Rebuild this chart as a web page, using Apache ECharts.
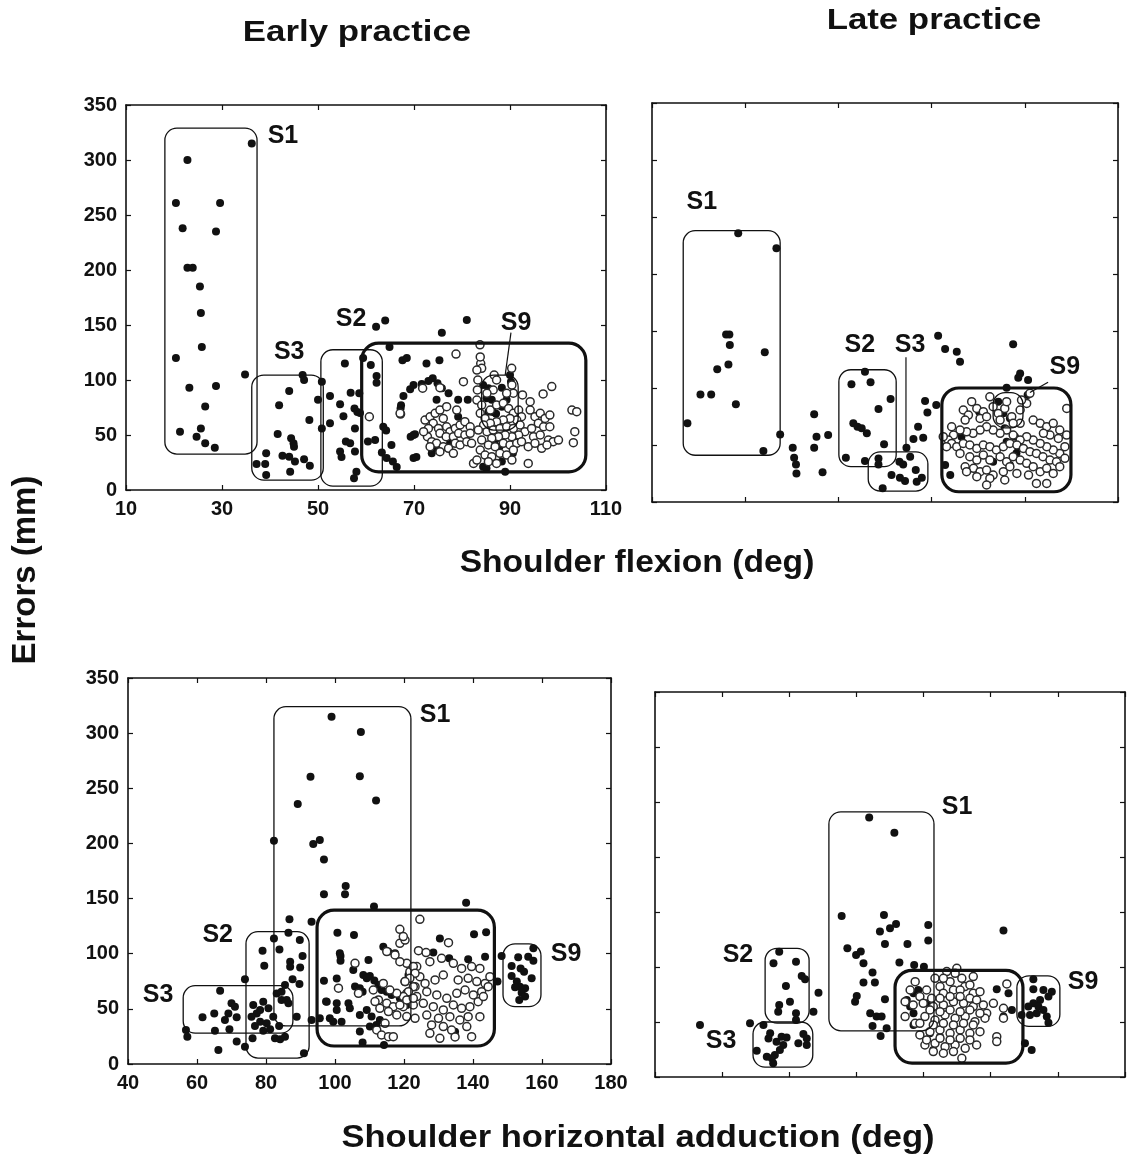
<!DOCTYPE html>
<html><head><meta charset="utf-8">
<script src="https://cdn.jsdelivr.net/npm/echarts/dist/echarts.min.js"></script>
<style>html,body{margin:0;padding:0;background:#fff}#c{width:1127px;height:1159px}</style>
</head><body><div id="c"></div><script>
// ---------- Top-left: Early practice, shoulder flexion ----------
const tlFilled = [[36.2,315],[22.8,300],[20.4,261],[29.6,261],[21.8,238],[28.75,235],[22.8,202],[23.9,202],[25.4,185],[25.6,161],[25.8,130],[20.4,120],[34.8,105],[23.2,93],[28.75,94.5],[26.5,76],[21.25,53],[25.6,56],[24.7,48.5],[26.5,42.5],[28.5,38.5],
[46.8,104.5],[47.1,100],[44,90],[41.9,77],[48.2,63.6],[50,82],[50.8,98.5],[52.5,85.5],[41.6,51],[44.4,47],[44.9,42.4],[45,39.4],[39.2,33.3],[42.6,31.2],[44,30.3],[45.2,25.8],[47.1,28],[48.3,22],[37.2,23.6],[39,23.6],[39.2,13.6],[44.2,16.6],[50.8,56],[52.5,60.6],
[55.6,115],[56.8,88.5],[58.6,88],[54.6,78],[57.6,74],[58.2,71],[58.75,70],[55.3,67],[57.7,56],[55.8,44],[56.7,42.5],[57.7,35],[54.6,35],[54.9,30],[58,16.6],[57.5,10.6],[61,113.6],[62.2,103.6],[62.2,97.5],[59.4,120],[64,154],[62.1,148.5],[63.6,57.5],[64.2,54],[61.9,45.5],[60.4,44],[63.3,34],[64.3,29],[65.3,41],[65.6,25.8],[66.4,21],[67.6,118],[68.5,120],[69.9,95.5],[69.2,91.5],[67.8,85.5],[67.3,77],[67.2,74],[69.9,50],[69.3,48.5],[69.9,29],[64.9,130],
[81,154.5],[75.8,143],[72.6,115],[75.3,118],[73.9,101.5],[73,99],[71.6,96.4],[74.9,97],[75.8,92.5],[77.2,88],[79.2,82],[81.2,82],[74.7,82],[79.2,66.6],[70.2,50.6],[70.5,30],[73.7,33.3],[74.7,38],[77.5,42.5],[84.4,95.5],[85.5,92.5],[88.3,93],[90.2,98.5],[85.1,83.4],[86.2,82],[89.3,82],[85.5,71.2],[86.4,71],[87.1,69.4],[88.3,75.7],[85.1,57.6],[86.9,45.5],[87.8,39.4],[88.3,25.8],[89,16.6],[84.4,21.2],[85.1,19.7],[90.6,33.3],[90,104.5]];
const tlOpen = [[60.7,66.6],[67.2,69],[83.75,132],[78.75,123.6],[83.9,115],[84.1,110.6],[90.35,110.6],[86.7,104.5],[80.3,98.5],[83.3,100],[83.2,91],[71.8,92.5],[75.4,93],[90.7,88],[92.6,86.4],[94.2,80.3],[96.9,87.3],[98.7,94],[67.1,69.7],[102.9,72.7],[103.9,71.2],[103.5,53],[103.2,43],[93.8,24.2],[82.4,24.2],
[72.3,63.6],[73.35,66.6],[74.4,69.7],[75.4,72.7],[76.1,65.1],[74,60.6],[73,56],[75.1,56],[76.8,57.5],[77.5,53],[78.6,56],[79.6,59.1],[80.6,62.1],[81.7,57.5],[75.4,51.5],[76.7,48.5],[78.2,48.5],[79.3,51.5],[80.6,50],[81.7,51.5],[72.8,48.5],[73.7,43.9],[74.7,42.4],[76.1,39.4],[77.2,37.9],[78.6,42.4],[79.6,40.9],[81,43.9],[75.4,34.8],[73.35,39.4],[82,42.4],[78.2,33.3],[76.8,75.7],[78.9,72.7],[72,53],
[83.1,81.8],[84.1,77.2],[83.8,69.7],[84.8,65.1],[85.9,72.7],[87.2,77.2],[88.6,78.8],[89.7,74.2],[90.7,69.7],[91.8,72.7],[92.4,66.6],[91.4,63.6],[90,65.1],[88.6,63.6],[87.2,62.1],[85.9,60.6],[84.5,59.1],[83.4,54.5],[85.2,53],[86.5,54.5],[87.9,56],[89.3,57.5],[90.7,56],[92.1,59.1],[93.1,53],[91.8,50],[90.4,48.5],[89,50],[87.6,48.5],[86.2,47],[84.1,45.4],[85.5,40.9],[86.9,39.4],[88.6,42.4],[90,40.9],[91.4,42.4],[92.4,43.9],[83.8,36.3],[84.8,31.8],[86.2,30.3],[87.9,33.3],[89.3,31.8],[90.7,36.3],[83.1,27.2],[85.5,25.7],[87.2,24.2],[90.4,27.2],[83.8,121],[90.4,95.4],[87.2,100],[86.5,90.9],[85.2,87.9],[83.1,109],[89.3,87.9],
[94.2,72.7],[95.2,66.6],[96.3,69.7],[97.3,65.1],[98.3,68.1],[95.9,60.6],[94.5,56],[97,57.5],[98.3,57.5],[94.9,48.5],[96.3,50],[98,45.4],[99,43.9],[100.1,45.4],[96.6,37.9],[97.7,40.9],[93.8,39.4],[95.2,42.4]];
const tlBoxes = [['S1',18.1,37.3,32.7,329],['S3',36.2,51.1,9,104.5],['S2',50.6,63.4,3.5,127.5],['S9-big',59.1,105.8,16.4,133.5],['S9-small',84.1,91.7,54.5,104.5]];
const tlTags = [['S1',42.7,322],['S3',44,125],['S2',56.9,155],['S9',91.25,152]];
const tlLeaders = [[90.2,143,89,104.5]];

// ---------- Top-right: Late practice, shoulder flexion ----------
const trFilled = [[28.5,235.7],[36.7,222.5],[25.9,147],[26.6,147],[26.7,137.7],[34.2,131.3],[24,116.4],[26.4,120.7],[20.4,94.4],[22.7,94.4],[28,85.7],[17.6,69],[37.5,59.3],[33.9,44.7],
[40.2,47.6],[40.5,38.9],[40.9,33],[41,25.1],[44.8,76.9],[44.8,47.6],[45.3,57.3],[47.8,58.8],[46.6,26],
[55.7,114.3],[52.8,103.2],[56.9,105],[61.2,90.3],[58.6,81.6],[53.2,69],[54.1,66.1],[55,64.6],[56.1,60.2],[59.8,50.6],[51.6,38.9],[55.7,36],
[58.6,38.2],[58.6,33],[64.6,47.6],[63.1,35.4],[63.9,33],[61.4,23.7],[63.2,21.3],[64.3,18.4],[66.6,28.1],[66.8,17.8],[67.9,21.3],[59.5,12],[65.4,39.8],[66.1,55.2],[68.2,56.4],[67.1,66.1],[68.6,88.6],[69.1,78.6],[71,85],
[71.4,145.9],[72.9,134.2],[75.4,131.9],[76.1,123.1],[87.5,138.3],[89,112.8],[88.6,109],[90.7,107],[86.1,100.3],[90.6,93.8],
[84.3,88],[85.4,77.8],[86.8,73.4],[84.7,71.9],[87.9,57.3],[86.1,52.9],[88.6,47],[85.7,64.6],[80.2,79.2],[76.4,57.3],[88.2,42.7],[72.9,32.4],[74,23.7],[86.8,32.4],[83.2,35.3]];
const trOpen = [[78.6,88],[76.8,80.7],[77.9,76.3],[77.2,71.9],[79.7,82.1],[81.1,79.2],[80.4,73.3],[83.2,83.6],[84.3,77.7],[85.7,82.1],[87.2,74.8],[89,80.7],[90.4,86.5],[91.8,71.9],[89,69],
[93.3,69],[94.7,66],[96.1,69],[97.5,63.1],[98.98,58.7],[97.2,55.8],[95.4,58.7],[94,60.2],[99,82.1],[98.6,48.5],[97.5,42.6],[96.1,45.6],[94.7,48.5],[93.3,51.4],[91.8,54.3],
[90.4,57.3],[89,54.3],[87.5,58.7],[86.1,63.1],[84.7,60.2],[83.2,63.1],[81.8,66],[80.4,63.1],[78.9,60.2],[77.5,61.6],[76.1,63.1],[74.7,58.7],[73.6,54.3],[72.5,57.3],
[74.3,51.4],[75.4,48.5],[76.8,51.4],[78.2,50],[79.7,47],[81.1,50],[82.5,48.5],[83.9,45.6],[85.4,48.5],[86.8,51.4],[88.3,50],[89.7,47],[91.1,44.1],[92.5,42.6],[93.9,39.7],[95.4,36.8],[96.8,35.3],[98.6,38.3],
[78.2,39.7],[79.7,36.8],[81.1,41.2],[82.5,36.8],[84.7,39.7],[86.1,35.3],[87.5,39.7],[89,36.8],[90.4,33.9],[91.8,31],[93.3,26.6],[94.7,29.5],[96.1,25.1],[97.5,31],
[77.2,30.9],[79,29.5],[80.4,26.6],[81.8,28],[83.2,23.6],[85.4,26.6],[86.8,31],[88.3,25.1],[85.7,19.3],[82.5,20.7],[79.7,22.2],[77.5,26.6],[90.8,23.6],[92.5,16.3],[94.7,16.3],[81.8,14.9],
[82.5,92.3],[86.1,88],[89.3,89.4],[91.1,95.3],[74.3,66],[73.2,48.5],[76.1,42.6],[84.7,71.9],[87.5,69],[81.8,74.8]];
const trBoxes = [['S1',16.7,37.5,41,238],['S2',50.1,62.4,31,116],['S3',56.4,69.2,9.6,44],['S9-big',72.2,99.9,9,100],['S9-small',83.2,89.6,65,96]];
const trTags = [['S1',20.7,263],['S2',54.6,138],['S3',65.4,138],['S9',98.6,118]];
const trLeaders = [[64.5,127,64.5,44],[95,105,91.1,96]];

// ---------- Bottom-left: Early practice, shoulder horizontal adduction ----------
const blFilled = [[99,314.9],[107.5,301],[107.2,261],[111.9,239],[92.9,260.5],[89.2,235.7],[82.3,202.5],[93.7,199.5],[95.6,203],[96.8,185.5],[96.8,154],[103.1,161.4],[102.9,154],[93.2,129],[86.8,131.2],[82.3,113.9],[83.9,103.9],[79,102.7],[79.5,89],[73.9,76.8],[86.5,119],[89.8,112.4],[90.6,97.9],[87,92.8],[87,88.2],[89.9,87.6],[87.7,76.8],[89.7,72.5],[83.1,64],[84.5,65.6],[85.5,71.6],[84.5,58],[86,58],[86.5,55],
[66.7,66.5],[70,55],[71,52],[69.1,45.9],[68.1,39.9],[71.5,42.3],[65,45.9],[61.6,42.3],[65.2,30.2],[69.4,31.4],[71.5,20.3],[66.2,12.7],[56.8,30.8],[57.2,24.8],
[76.3,53.5],[79.2,56.5],[80.7,50.5],[77.3,45.9],[75.8,42.9],[78.3,38.4],[80.2,36.9],[76.8,34.5],[79.2,30.2],[81.2,31.4],[76.1,23.3],[82.6,23.3],[84.1,22.4],[85.5,24.8],[83.8,34.5],[82.1,42.9],[78.3,48.9],[73.9,15.7],[91,9.7],[88.9,42.9],[93.2,39.9],
[100.7,119],[105.5,116.9],[101.6,97.9],[101.6,93.7],[96.8,75.5],[100.5,77.6],[97.6,56.5],[100.5,55],[100.5,48.9],[103.9,55],[99.5,38.4],[101.9,38.4],[95.6,41.4],
[111.3,142.7],[101.4,100.4],[109.7,94.3],[105.3,85.3],[108.2,80.7],[109.2,77.7],[110.1,79.8],[105.8,70.2],[107.2,68.7],[108,65.6],[97.4,56.6],[104.3,50.5],[107.2,44.5],[109.2,49],[110.6,43],[98.5,41.5],[113,39.9],[112,35.4],[110.1,33.9],[107.2,29.4],[108,19.4],[114,106.4],[115.4,101.9],[117.4,100.4],[111.4,75.6],[112.6,71.7],[113.5,67.1],[115,65.6],[116.4,62.6],[118.8,59.6],[120.8,53.5],[121.3,80.7],[114.2,17.3],
[138,146.3],[130.4,113.9],[128.5,101],[140.3,117.6],[143.8,119.4],[133.1,95.8],[138.6,94.9],[143.5,97.3],[147.1,74.7],[148.3,98],[134.8,29.3],
[157.5,104.9],[153.1,96.7],[156,97.3],[157.5,93.7],[151.2,88.9],[153.8,86.7],[154.8,83.7],[157,77.7],[151.2,79.8],[152.7,74.7],[153.6,70.1],[155.1,68.6],[152.2,69.5],[154.1,64.7],[155.1,61.1],[153.4,58.1]];
const blOpen = [[124.6,131.2],[132.9,110],[124.2,102.8],[126.4,101],[127.5,92.8],[130.9,95.8],[134.3,91.3],[136.7,86.7],[139.6,88.3],[142,86.7],
[123.7,88.3],[124.6,79.2],[121.7,83.7],[120.3,74.7],[123.2,70.1],[126.1,73.1],[129,76.2],[131.4,80.7],[135.7,76.2],[138.6,77.7],[141.1,74.7],[143.5,73.1],[144.9,79.2],
[120.8,64.1],[123.7,61.1],[126.6,65.6],[129.5,62.6],[132.4,59.6],[135.3,64.1],[137.7,67.1],[140.1,62.6],[142.5,65.6],[144.4,70.1],
[119.8,52],[122.7,53.5],[125.6,55],[128.5,52],[131.4,49],[134.3,53.5],[136.7,50.5],[139.1,52],[141.5,56.5],[143,61.1],
[123.2,41.4],[126.6,44.4],[130,41.4],[133.3,42.9],[136.2,39.9],[138.6,42.9],[142,42.9],[128,35.4],[131.4,33.9],[133.8,30.8],[138.2,33.9],[139.6,24.8],[130.4,23.3],[127.5,27.8],[134.8,24.5],
[120.8,91.3],[118.8,109.4],[120.3,112.4],[118.8,122.1],[119.8,115.5],[105.8,91.3],[101,68.7],[106.8,64.1],[115,101.9],[117.4,98.9],[118.8,92.8],
[122.7,88.3],[123.2,82.2],[121.7,77.7],[120.3,74.7],[122.7,70.1],[121.3,65.6],[119.8,61.1],[117.9,64.1],[115.9,67.1],[114,73.1],[112.6,58.1],[115,55],[116.9,52],[118.8,53.5],[120.8,58.1],[122.7,59.6],
[111.1,67.1],[111.6,56.6],[113,50.5],[115.5,47.5],[117.9,44.5],[120.8,43],[114.5,36.9],[112.1,30.9],[113.5,26.3],[115.5,24.8],[116.9,24.8]];
const blBoxes = [['S1',82.3,122,34.5,324],['S2',74.2,92.5,5.4,120],['S3',56,87.8,28,71],['S9-big',94.8,146.2,16.3,139.5],['S9-small',148.7,159.7,52,109]];
const blTags = [['S1',129,316],['S2',66,117],['S3',48.7,62.6],['S9',167,100]];
const blLeaders = [];

// ---------- Bottom-right: Late practice, shoulder horizontal adduction ----------
const brFilled = [[103.8,236],[111.3,222.1],[53.4,47.3],
[77,113.9],[75.3,103.3],[82,104.8],[83.7,91.8],[84.7,88.8],[79,82.7],[88.7,76.7],[80.2,68.5],[77,65.5],[76.7,59.4],[82,57.9],[87.2,59.4],[82,51.8],
[68.3,48.8],[72.3,47.3],[74.3,39.7],[73.8,35.1],[76.2,32.1],[77.7,36.6],[79.2,36],[78.2,29],[77.2,24.5],[75.7,20],[74.8,17],[75.2,12.4],[73.3,18.5],[70.3,23.9],[84.2,39.1],[82.7,30.6],[85.2,29.1],[85.2,35.1],
[95.6,146.4],[108.2,147.3],[107,132.2],[110,135.2],[111.8,139.1],[108.5,120.9],[115.2,120.9],[121.4,138.2],[121.4,124],[97.3,117],[99.9,111],[101.3,114],[102.1,103.4],[104.8,94.9],[102.1,85.8],[105.5,85.8],[112.8,104],[117.2,101.9],[120.1,100.3],[100.1,73.7],[99.6,68.5],[108.5,70.6],[104.1,57.9],[106,54.9],[107.5,54.9],[104.8,46.4],[109,44.3],[107.2,37.3],[117,76.1],[118.4,79.1],[120.9,67],
[143.8,133.1],[141.8,79.7],[145.3,76.1],[146.3,61],[143.8,55],[115,70.1],[116,64],[117,57.9],[117,47.3],[121.9,39.7],[122.9,24.6],[124.9,36.7],[150.2,30.6],[152.2,24.6],
[152.7,88.8],[152.7,79.7],[155.7,79.1],[158.2,77.6],[157.2,73.1],[154.7,70],[152.7,67],[151.2,64],[154.2,64],[155.7,60.9],[153.7,57.9],[151.7,56.4],[156.7,54.9],[157.2,49.4],[149.2,56.4]];
const brOpen = [[123.4,89.7],[126.9,95.8],[129.9,98.8],[127.9,86.7],[131.4,89.7],[124.9,82.2],[120.9,79.1],[118.9,73.1],[122.4,71.5],[125.9,76.1],[128.9,79.1],[132.3,82.2],[134.8,76.1],[136.8,77.6],
[116.9,65.5],[119.9,67],[122.9,64],[125.9,65.5],[128.9,68.5],[131.9,67],[134.8,64],[137.8,65.5],[140.8,67],[143.8,62.5],[138.8,57.9],
[114.5,54.9],[117.5,48.8],[120.4,54.9],[123.4,51.8],[126.4,56.4],[129.4,53.4],[132.4,54.9],[135.3,50.3],[138.3,53.4],
[118.9,38.2],[121.9,41.2],[124.9,42.8],[127.9,39.7],[130.9,42.8],[133.8,39.7],[136.8,41.2],
[120.4,29.1],[123.4,30.6],[126.4,27.6],[129.4,29.1],[132.4,26.1],[135.8,29.1],[141.8,36.7],[141.8,32.2],
[122.9,23.1],[125.9,21.6],[128.9,23.1],[131.4,17],[144.8,84.6],[143.8,53.4],[116,79.1],[114.5,68.5],[117.5,86.7],[133.8,83.7],[134.8,91.3],[130.9,79.1],
[121.9,60.9],[124.9,59.4],[127.9,60.9],[130.9,59.4],[133.8,60.9],[136.8,57.9],[124.9,71.5],[127.9,73.1],[130.9,73.1],[133.8,71.5],[135.8,70],
[122.9,47.3],[125.9,48.8],[128.9,47.3],[131.9,48.8],[134.8,47.3],[118.9,48.8],[120.9,33.7],[124.9,35.2],[127.9,33.7],[130.9,35.2],[133.8,33.7],[129.4,94.3],[125.9,89.7]];
const brBoxes = [['S1',91.8,123.1,42,241],['S2',72.8,85.9,49,117],['S3',69.2,87,9,50],['S9-big',111.5,149.6,12.7,97],['S9-small',147.8,160.6,46,92]];
const brTags = [['S1',130,245],['S2',64.7,111],['S3',59.7,33],['S9',167.5,86]];
const brLeaders = [];

const yTickMin = 0, yTickMax = 350, yTickStep = 50;
const flexRange = [10, 110], adductRange = [40, 180], xTickStep = 20;

// ---------- layout & style ----------
const FONT = '"Liberation Sans", Arial, Helvetica, sans-serif';
const INK = '#111';
const panels = [
  {grid:{left:126, top:105, width:480, height:385}, x:flexRange, labels:true, filled:tlFilled, open:tlOpen, boxes:tlBoxes, tags:tlTags, leaders:tlLeaders},
  {grid:{left:652, top:103, width:466, height:399}, x:flexRange, labels:false, filled:trFilled, open:trOpen, boxes:trBoxes, tags:trTags, leaders:trLeaders},
  {grid:{left:128, top:678, width:483, height:386}, x:adductRange, labels:true, filled:blFilled, open:blOpen, boxes:blBoxes, tags:blTags, leaders:blLeaders},
  {grid:{left:655, top:692, width:470, height:385}, x:adductRange, labels:false, filled:brFilled, open:brOpen, boxes:brBoxes, tags:brTags, leaders:brLeaders}
];

const grid = [], xAxis = [], yAxis = [], series = [];
const axisLine = {show:true, onZero:false, lineStyle:{color:INK, width:1.6}};
const axisTick = {show:true, inside:true, length:5, lineStyle:{color:INK, width:1.2}};
const labelStyle = (show) => ({show, fontFamily:FONT, fontWeight:'bold', fontSize:20, color:'#111', margin:9, showMinLabel:true, showMaxLabel:true});

panels.forEach((p, i) => {
  grid.push(Object.assign({show:false}, p.grid));
  const xa = {type:'value', gridIndex:i, min:p.x[0], max:p.x[1], interval:xTickStep, axisLine, axisTick, splitLine:{show:false}};
  const ya = {type:'value', gridIndex:i, min:yTickMin, max:yTickMax, interval:yTickStep, axisLine, axisTick, splitLine:{show:false}};
  xAxis.push(Object.assign({position:'bottom', axisLabel:labelStyle(p.labels)}, xa));
  xAxis.push(Object.assign({position:'top', axisLabel:{show:false}}, xa));
  yAxis.push(Object.assign({position:'left', axisLabel:labelStyle(p.labels)}, ya));
  yAxis.push(Object.assign({position:'right', axisLabel:{show:false}}, ya));
  const ai = 2 * i;
  series.push({type:'scatter', xAxisIndex:ai, yAxisIndex:ai, z:2, silent:true, symbol:'circle', symbolSize:8,
    itemStyle:{color:'#111', opacity:1}, data:p.filled});
  series.push({type:'scatter', xAxisIndex:ai, yAxisIndex:ai, z:3, silent:true, symbol:'circle', symbolSize:8,
    itemStyle:{color:'#fff', borderColor:'#2a2a2a', borderWidth:1.5, opacity:1}, data:p.open});
  const boxes = p.boxes;
  series.push({type:'custom', xAxisIndex:ai, yAxisIndex:ai, z:4, silent:true, clip:false,
    data:boxes.map(b => [b[1], b[2], b[3], b[4]]),
    encode:{x:[0,1], y:[2,3]},
    renderItem:(params, api) => {
      const thick = boxes[params.dataIndex][0] === 'S9-big';
      const a = api.coord([api.value(0), api.value(3)]);
      const b = api.coord([api.value(1), api.value(2)]);
      const w = b[0] - a[0], h = b[1] - a[1];
      const r = Math.min(thick ? 17 : 12, w / 2.5, h / 2.5);
      return {type:'rect', shape:{x:a[0], y:a[1], width:w, height:h, r:r},
        style:{fill:'transparent', stroke:INK, lineWidth: thick ? 3.2 : 1.3}};
    }});
  if (p.leaders.length) {
    series.push({type:'custom', xAxisIndex:ai, yAxisIndex:ai, z:4, silent:true, clip:false,
      data:p.leaders, encode:{x:[0,2], y:[1,3]},
      renderItem:(params, api) => {
        const a = api.coord([api.value(0), api.value(1)]);
        const b = api.coord([api.value(2), api.value(3)]);
        return {type:'line', shape:{x1:a[0], y1:a[1], x2:b[0], y2:b[1]}, style:{stroke:INK, lineWidth:1.2}};
      }});
  }
  const tags = p.tags;
  series.push({type:'custom', xAxisIndex:ai, yAxisIndex:ai, z:5, silent:true, clip:false,
    data:tags.map(t => [t[1], t[2]]),
    renderItem:(params, api) => {
      const c = api.coord([api.value(0), api.value(1)]);
      return {type:'text', x:c[0], y:c[1],
        style:{text:tags[params.dataIndex][0], font:'bold 25px ' + FONT, fill:INK,
          align:'center', verticalAlign:'middle', textAlign:'center', textVerticalAlign:'middle'}};
    }});
});

const txt = (text, x, y, size, sx, rot) => ({type:'text', x, y, scaleX:sx, rotation:rot || 0, silent:true,
  style:{text, font:'bold ' + size + 'px ' + FONT, fill:INK, textAlign:'center', textVerticalAlign:'middle', align:'center', verticalAlign:'middle'}});

const chart = echarts.init(document.getElementById('c'), null, {renderer:'canvas'});
chart.setOption({
  animation:false,
  backgroundColor:'#fff',
  grid, xAxis, yAxis, series,
  graphic:[
    txt('Early practice', 357, 33, 29, 1.2),
    txt('Late practice', 934, 21, 29, 1.2),
    txt('Shoulder flexion (deg)', 637, 563, 32, 1.05),
    txt('Shoulder horizontal adduction (deg)', 638, 1138, 32, 1.08),
    txt('Errors (mm)', 26, 570, 33, 1, Math.PI / 2)
  ]
});
</script></body></html>
